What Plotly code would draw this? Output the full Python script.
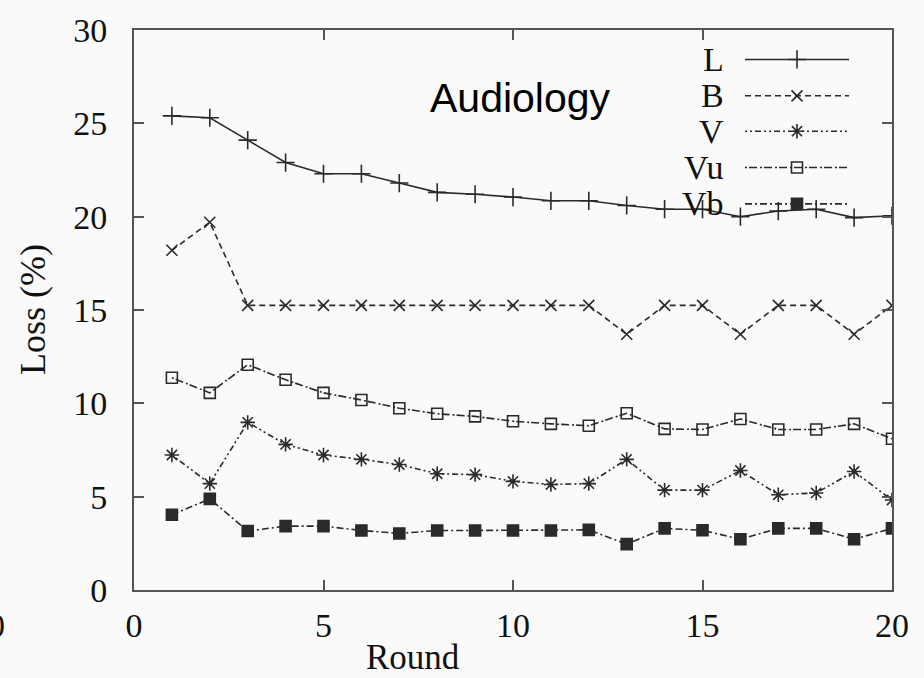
import plotly.graph_objects as go

rounds = list(range(1, 21))
loss_L = [25.4, 25.3, 24.1, 22.9, 22.3, 22.3, 21.8, 21.3, 21.2, 21.05, 20.85, 20.85, 20.6, 20.4, 20.4, 20.0, 20.3, 20.4, 19.95, 20.05]
loss_B = [18.2, 19.7, 15.25, 15.25, 15.25, 15.25, 15.25, 15.25, 15.25, 15.25, 15.25, 15.25, 13.7, 15.25, 15.25, 13.7, 15.25, 15.25, 13.7, 15.25]
loss_V = [7.23, 5.7, 8.98, 7.8, 7.23, 7.0, 6.72, 6.23, 6.18, 5.82, 5.65, 5.7, 7.0, 5.35, 5.35, 6.4, 5.1, 5.2, 6.35, 4.82]
loss_Vu = [11.37, 10.56, 12.07, 11.26, 10.56, 10.18, 9.74, 9.44, 9.3, 9.04, 8.9, 8.8, 9.47, 8.63, 8.6, 9.16, 8.6, 8.6, 8.9, 8.1]
loss_Vb = [4.03, 4.88, 3.16, 3.42, 3.42, 3.19, 3.03, 3.19, 3.19, 3.19, 3.19, 3.22, 2.46, 3.3, 3.2, 2.72, 3.3, 3.3, 2.72, 3.3]
series_names = ["L", "B", "V", "Vu", "Vb"]
x_ticks = [0, 5, 10, 15, 20]
y_ticks = [0, 5, 10, 15, 20, 25, 30]

LINE = "#2a2a2a"
AXC = "#555555"
BG = "#fafafa"
SERIF = "Liberation Serif, Times New Roman, serif"

# plot-area geometry in pixels (for converting text placement to paper coords)
PX_L, PX_R, PX_T, PX_B = 134, 892, 20, 590


def px(xp):
    return (xp - PX_L) / (PX_R - PX_L)


def py(yp):
    return (PX_B - yp) / (PX_B - PX_T)


styles = {
    "L": dict(dash="solid", symbol="cross-thin-open", size=13),
    "B": dict(dash="6px,4px", symbol="x-thin-open", size=11),
    "V": dict(dash="2px,3px,2px,3px,6px,3px", symbol="asterisk-open", size=12),
    "Vu": dict(dash="2px,2px,8px,3px", symbol="square-open", size=11),
    "Vb": dict(dash="7px,3px,2px,3px", symbol="square", size=11),
}
data = {"L": loss_L, "B": loss_B, "V": loss_V, "Vu": loss_Vu, "Vb": loss_Vb}

fig = go.Figure()
for name in series_names:
    st = styles[name]
    fig.add_trace(go.Scatter(
        x=rounds, y=data[name], mode="lines+markers", name=name,
        line=dict(color=LINE, width=1.6, dash=st["dash"]),
        marker=dict(symbol=st["symbol"], size=st["size"], color=LINE,
                    line=dict(color=LINE, width=1.6)),
        showlegend=False, xaxis="x", yaxis="y",
    ))

# manual gnuplot-style key on an overlay pixel axis
key_rows = [50, 87, 123, 160, 197]
for name, ry in zip(series_names, key_rows):
    st = styles[name]
    fig.add_trace(go.Scatter(
        x=[745, 849], y=[ry, ry], mode="lines",
        line=dict(color=LINE, width=1.6, dash=st["dash"]),
        showlegend=False, xaxis="x2", yaxis="y2", hoverinfo="skip",
    ))
    fig.add_trace(go.Scatter(
        x=[797], y=[ry], mode="markers",
        marker=dict(symbol=st["symbol"], size=st["size"], color=LINE,
                    line=dict(color=LINE, width=1.6)),
        showlegend=False, xaxis="x2", yaxis="y2", hoverinfo="skip",
    ))
    fig.add_annotation(x=px(726), y=py(ry), xref="paper", yref="paper", text=name,
                       showarrow=False, xanchor="right", yanchor="middle",
                       font=dict(family=SERIF, size=34, color="#111"))

fig.add_annotation(x=px(520), y=py(89), xref="paper", yref="paper", text="Audiology",
                   showarrow=False, xanchor="center", yanchor="middle",
                   font=dict(family="Liberation Sans, Arial, sans-serif", size=41, color="#000"))
fig.add_annotation(x=px(413), y=py(659), xref="paper", yref="paper", text="Round",
                   showarrow=False, xanchor="center", yanchor="middle",
                   font=dict(family=SERIF, size=35, color="#111"))
fig.add_annotation(x=px(33), y=py(305), xref="paper", yref="paper", text="Loss (%)",
                   textangle=-90, showarrow=False, xanchor="center", yanchor="middle",
                   font=dict(family=SERIF, size=36, color="#111"))
# partially cropped tick label at the far left edge (as in the reference)
fig.add_annotation(x=px(-4), y=py(626), xref="paper", yref="paper", text="0",
                   showarrow=False, xanchor="center", yanchor="middle",
                   font=dict(family=SERIF, size=34, color="#111"))

axis_common = dict(showgrid=False, zeroline=False, showline=True, linecolor=AXC,
                   linewidth=2, mirror="ticks", ticks="inside", ticklen=10,
                   tickwidth=1.5, tickcolor=AXC,
                   tickfont=dict(family=SERIF, size=34, color="#111"))

fig.update_layout(
    width=924, height=678,
    margin=dict(l=PX_L, r=924 - PX_R, t=PX_T, b=678 - PX_B),
    paper_bgcolor=BG, plot_bgcolor=BG,
    xaxis=dict(range=[0, 20], tickvals=x_ticks, ticklabelstandoff=4, **axis_common),
    yaxis=dict(range=[0, 30], tickvals=y_ticks, ticklabelstandoff=18, **axis_common),
    xaxis2=dict(range=[PX_L, PX_R], overlaying="x", visible=False, fixedrange=True),
    yaxis2=dict(range=[PX_B, PX_T], overlaying="y", visible=False, fixedrange=True),
)

fig.write_html("out.html")
